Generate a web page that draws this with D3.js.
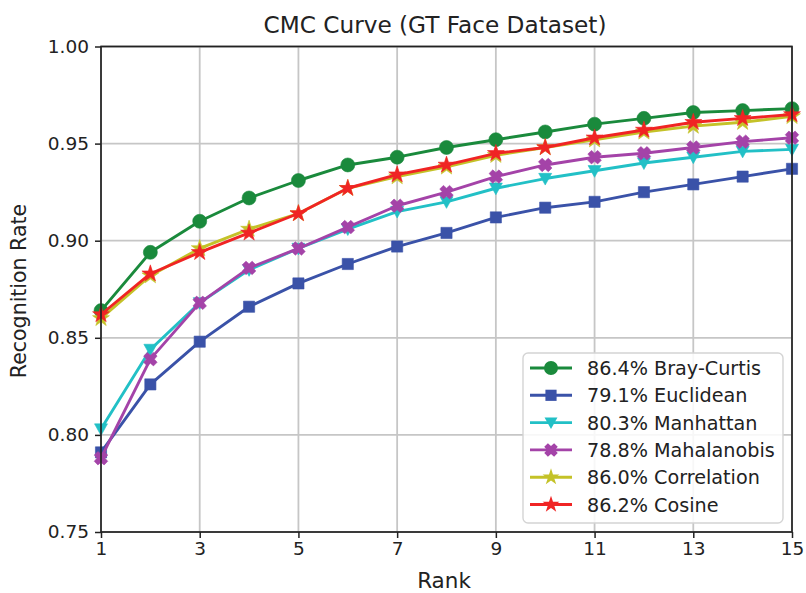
<!DOCTYPE html>
<html><head><meta charset="utf-8">
<script src="https://cdn.jsdelivr.net/npm/d3@7"></script>
<style>
html,body{margin:0;padding:0;background:#fff;}
svg{display:block;font-family:"DejaVu Sans",sans-serif;}
</style></head>
<body><svg id="chart" width="806" height="593"></svg>
<script>
const ranks = [1,2,3,4,5,6,7,8,9,10,11,12,13,14,15];
const xTicks = [1,3,5,7,9,11,13,15];
const yTicks = [0.75,0.80,0.85,0.90,0.95,1.00];
const seriesNames = ["86.4% Bray-Curtis","79.1% Euclidean","80.3% Manhattan","78.8% Mahalanobis","86.0% Correlation","86.2% Cosine"];
const brayCurtis  = [0.864,0.894,0.910,0.922,0.931,0.939,0.943,0.948,0.952,0.956,0.960,0.963,0.966,0.967,0.968];
const euclidean   = [0.791,0.826,0.848,0.866,0.878,0.888,0.897,0.904,0.912,0.917,0.920,0.925,0.929,0.933,0.937];
const manhattan   = [0.803,0.844,0.868,0.885,0.896,0.906,0.915,0.920,0.927,0.932,0.936,0.940,0.943,0.946,0.947];
const mahalanobis = [0.788,0.839,0.868,0.886,0.896,0.907,0.918,0.925,0.933,0.939,0.943,0.945,0.948,0.951,0.953];
const correlation = [0.860,0.882,0.896,0.906,0.914,0.927,0.933,0.938,0.944,0.948,0.952,0.956,0.959,0.961,0.964];
const cosine      = [0.862,0.883,0.894,0.904,0.914,0.927,0.934,0.939,0.945,0.948,0.953,0.957,0.961,0.963,0.965];

const colors = ["#1a8a3c","#3a52a8","#22c0c6","#a443a8","#c4c228","#f02424"];
const markers = ["circle","square","triangleDown","x","star","star"];
const values = [brayCurtis,euclidean,manhattan,mahalanobis,correlation,cosine];

const svg = d3.select("#chart");
const L=101, R=792, T=46.5, B=532;
const x = d3.scaleLinear().domain([1,15]).range([L,R]);
const y = d3.scaleLinear().domain([0.75,1.0]).range([B,T]);

// grid
const grid = svg.append("g");
grid.selectAll(".gx").data(xTicks).enter().append("line")
  .attr("x1",d=>x(d)).attr("x2",d=>x(d)).attr("y1",T).attr("y2",B)
  .attr("stroke","#c6c6c6").attr("stroke-width",1.8);
grid.selectAll(".gy").data(yTicks).enter().append("line")
  .attr("x1",L).attr("x2",R).attr("y1",d=>y(d)).attr("y2",d=>y(d))
  .attr("stroke","#c6c6c6").attr("stroke-width",1.8);

function markerPath(type, s){
  if(type==="circle") return d3.symbol(d3.symbolCircle, s*s*0.785)();
  if(type==="square") return d3.symbol(d3.symbolSquare, s*s*0.8)();
  if(type==="triangleDown"){ const h=s*0.5; return `M${-h},${-h*0.8}L${h},${-h*0.8}L0,${h*1.0}Z`; }
  if(type==="star") return d3.symbol(d3.symbolStar, s*s*0.45)();
  if(type==="x"){
    const a=s*0.5, w=s*0.27;
    return `M${-a+w},${-a}L0,${-w*1.1}L${a-w},${-a}L${a},${-a+w}L${w*1.1},0L${a},${a-w}L${a-w},${a}L0,${w*1.1}L${-a+w},${a}L${-a},${a-w}L${-w*1.1},0L${-a},${-a+w}Z`;
  }
}
const msize = [14,12.5,13,13.5,14,14];

const line = d3.line().x((d,i)=>x(ranks[i])).y(d=>y(d));
const plot = svg.append("g");
values.forEach((vals,k)=>{
  const g = plot.append("g");
  g.append("path").attr("d",line(vals)).attr("fill","none")
    .attr("stroke",colors[k]).attr("stroke-width",2.9).attr("stroke-linejoin","round");
  g.selectAll("path.m").data(vals).enter().append("path").attr("class","m")
    .attr("transform",(d,i)=>`translate(${x(ranks[i])},${y(d)})`)
    .attr("d",markerPath(markers[k],msize[k])).attr("fill",colors[k])
    .attr("stroke",colors[k]).attr("stroke-width",0.6).attr("stroke-linejoin","round");
});

// frame
svg.append("rect").attr("x",L).attr("y",T).attr("width",R-L).attr("height",B-T)
  .attr("fill","none").attr("stroke","#222").attr("stroke-width",1.7);

// axes
const xAxis = d3.axisBottom(x).tickValues(xTicks).tickSize(6).tickPadding(4).tickFormat(d3.format("d"));
const gx = svg.append("g").attr("transform",`translate(0,${B})`).call(xAxis);
gx.select(".domain").remove();
gx.selectAll("line").attr("stroke","#222").attr("stroke-width",1.5);
gx.selectAll("text").attr("font-size",18.5).attr("fill","#222").attr("font-family","DejaVu Sans");

const yAxis = d3.axisLeft(y).tickValues(yTicks).tickSize(6).tickPadding(6).tickFormat(d3.format(".2f"));
const gy = svg.append("g").attr("transform",`translate(${L},0)`).call(yAxis);
gy.select(".domain").remove();
gy.selectAll("line").attr("stroke","#222").attr("stroke-width",1.5);
gy.selectAll("text").attr("font-size",18.5).attr("fill","#222").attr("font-family","DejaVu Sans");

// titles
svg.append("text").attr("x",435).attr("y",33).attr("text-anchor","middle")
  .attr("font-size",23.2).attr("fill","#222").text("CMC Curve (GT Face Dataset)");
svg.append("text").attr("x",444).attr("y",588).attr("text-anchor","middle")
  .attr("font-size",21.5).attr("fill","#222").text("Rank");
svg.append("text").attr("transform",`translate(26,291) rotate(-90)`).attr("text-anchor","middle")
  .attr("font-size",20.5).attr("fill","#222").text("Recognition Rate");

// legend
const lg = svg.append("g");
lg.append("rect").attr("x",523).attr("y",353).attr("width",260).attr("height",170).attr("rx",5)
  .attr("fill","#fff").attr("fill-opacity",0.85).attr("stroke","#d4d4d4").attr("stroke-width",1.4);
seriesNames.forEach((name,k)=>{
  const yy = 368 + k*27.3;
  lg.append("line").attr("x1",530).attr("x2",572).attr("y1",yy).attr("y2",yy)
    .attr("stroke",colors[k]).attr("stroke-width",2.9);
  lg.append("path").attr("transform",`translate(551,${yy})`).attr("d",markerPath(markers[k],msize[k])).attr("fill",colors[k]);
  lg.append("text").attr("x",587).attr("y",yy+7).attr("font-size",19.2).attr("fill","#222").text(name);
});
</script>
</body></html>
